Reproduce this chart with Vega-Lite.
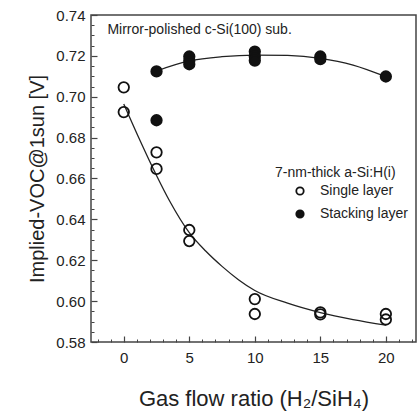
{
  "$schema": "https://vega.github.io/schema/vega-lite/v6.json",
  "width": 325,
  "height": 327,
  "autosize": "none",
  "padding": {"left": 91, "top": 15, "right": 3, "bottom": 72},
  "background": "white",
  "config": {
    "font": "Liberation Sans",
    "view": {"stroke": "#444", "strokeWidth": 1.5},
    "axis": {"domain": false, "grid": false, "tickColor": "#444", "labelColor": "#222", "titleColor": "#222", "labelFont": "Liberation Sans", "titleFont": "Liberation Sans", "titleFontWeight": "normal"}
  },
  "datasets": {
    "points": [
      {"series": "Single layer", "ratio": 0, "voc": 0.7046},
      {"series": "Single layer", "ratio": 0, "voc": 0.6925},
      {"series": "Single layer", "ratio": 2.5, "voc": 0.6728},
      {"series": "Single layer", "ratio": 2.5, "voc": 0.6647},
      {"series": "Single layer", "ratio": 5, "voc": 0.6348},
      {"series": "Single layer", "ratio": 5, "voc": 0.6294},
      {"series": "Single layer", "ratio": 10, "voc": 0.601},
      {"series": "Single layer", "ratio": 10, "voc": 0.5937},
      {"series": "Single layer", "ratio": 15, "voc": 0.5945},
      {"series": "Single layer", "ratio": 15, "voc": 0.5935},
      {"series": "Single layer", "ratio": 20, "voc": 0.5937},
      {"series": "Single layer", "ratio": 20, "voc": 0.591},
      {"series": "Stacking layer", "ratio": 2.5, "voc": 0.7124},
      {"series": "Stacking layer", "ratio": 2.5, "voc": 0.6885},
      {"series": "Stacking layer", "ratio": 5, "voc": 0.7197},
      {"series": "Stacking layer", "ratio": 5, "voc": 0.7176},
      {"series": "Stacking layer", "ratio": 5, "voc": 0.7159},
      {"series": "Stacking layer", "ratio": 10, "voc": 0.7221},
      {"series": "Stacking layer", "ratio": 10, "voc": 0.7197},
      {"series": "Stacking layer", "ratio": 10, "voc": 0.7177},
      {"series": "Stacking layer", "ratio": 15, "voc": 0.7197},
      {"series": "Stacking layer", "ratio": 15, "voc": 0.7184},
      {"series": "Stacking layer", "ratio": 20, "voc": 0.7099}
    ],
    "fit": [
      {"series": "Single layer", "ratio": 0, "voc": 0.6965},
      {"series": "Single layer", "ratio": 1.25, "voc": 0.6785},
      {"series": "Single layer", "ratio": 2.5, "voc": 0.6615},
      {"series": "Single layer", "ratio": 3.5, "voc": 0.649},
      {"series": "Single layer", "ratio": 5, "voc": 0.6335},
      {"series": "Single layer", "ratio": 6.25, "voc": 0.6245},
      {"series": "Single layer", "ratio": 7.5, "voc": 0.617},
      {"series": "Single layer", "ratio": 8.75, "voc": 0.6105},
      {"series": "Single layer", "ratio": 10, "voc": 0.6052},
      {"series": "Single layer", "ratio": 12.5, "voc": 0.599},
      {"series": "Single layer", "ratio": 15, "voc": 0.5944},
      {"series": "Single layer", "ratio": 17.5, "voc": 0.591},
      {"series": "Single layer", "ratio": 20, "voc": 0.5883},
      {"series": "Stacking layer", "ratio": 2.5, "voc": 0.7126},
      {"series": "Stacking layer", "ratio": 5, "voc": 0.7175},
      {"series": "Stacking layer", "ratio": 7.5, "voc": 0.7196},
      {"series": "Stacking layer", "ratio": 10, "voc": 0.7204},
      {"series": "Stacking layer", "ratio": 12.5, "voc": 0.7202},
      {"series": "Stacking layer", "ratio": 15, "voc": 0.7188},
      {"series": "Stacking layer", "ratio": 17.5, "voc": 0.7155},
      {"series": "Stacking layer", "ratio": 20, "voc": 0.7098}
    ]
  },
  "layer": [
    {
      "data": {"name": "fit"},
      "mark": {"type": "line", "interpolate": "monotone", "color": "#222", "strokeWidth": 1.3},
      "encoding": {
        "x": {"field": "ratio", "type": "quantitative", "scale": {"domain": [-2.5, 22.3], "nice": false, "zero": false},
          "axis": {"orient": "bottom", "values": [0, 5, 10, 15, 20], "tickSize": -6, "tickWidth": 1.2, "labelPadding": 14, "labelFontSize": 15, "title": "Gas flow ratio (H₂/SiH₄)", "titleFontSize": 22, "titlePadding": 23}},
        "y": {"field": "voc", "type": "quantitative", "scale": {"domain": [0.58, 0.74], "nice": false, "zero": false},
          "axis": {"orient": "left", "values": [0.58, 0.6, 0.62, 0.64, 0.66, 0.68, 0.7, 0.72, 0.74], "format": ".2f", "tickSize": -6, "tickWidth": 1.2, "labelPadding": 12, "labelFontSize": 15, "title": "Implied-VOC@1sun [V]", "titleFontSize": 20, "titlePadding": 8}},
        "detail": {"field": "series"}
      }
    },
    {
      "data": {"name": "points"},
      "mark": {"type": "point", "shape": "circle", "filled": true, "stroke": "#111", "strokeWidth": 1.8, "size": 110, "opacity": 1},
      "encoding": {
        "x": {"field": "ratio", "type": "quantitative",
          "axis": {"orient": "bottom", "values": [-2, -1, 1, 2, 3, 4, 6, 7, 8, 9, 11, 12, 13, 14, 16, 17, 18, 19, 21, 22], "tickSize": -3, "tickWidth": 1, "labels": false, "title": null}},
        "y": {"field": "voc", "type": "quantitative",
          "axis": {"orient": "left", "values": [0.585, 0.59, 0.595, 0.605, 0.61, 0.615, 0.625, 0.63, 0.635, 0.645, 0.65, 0.655, 0.665, 0.67, 0.675, 0.685, 0.69, 0.695, 0.705, 0.71, 0.715, 0.725, 0.73, 0.735], "tickSize": -3, "tickWidth": 1, "labels": false, "title": null}},
        "fill": {"field": "series", "type": "nominal",
          "scale": {"domain": ["Single layer", "Stacking layer"], "range": ["rgba(255,255,255,0)", "#111"]},
          "legend": {"orient": "none", "legendX": 184, "legendY": 151, "padding": 0, "title": "7-nm-thick a-Si:H(i)", "titleFontSize": 14, "titleFontWeight": "normal", "titleColor": "#222", "titlePadding": 4, "labelFontSize": 14, "labelColor": "#222", "symbolType": "circle", "symbolSize": 55, "symbolStrokeColor": "#111", "symbolStrokeWidth": 1.8, "symbolOffset": 18, "labelOffset": 13, "rowPadding": 7}
        }
      }
    },
    {
      "data": {"values": [{"note": "Mirror-polished c-Si(100) sub."}]},
      "mark": {"type": "text", "align": "left", "baseline": "middle", "fontSize": 14, "color": "#222"},
      "encoding": {
        "x": {"datum": -1.25, "type": "quantitative", "axis": null},
        "y": {"datum": 0.7329, "type": "quantitative", "axis": null},
        "text": {"field": "note", "type": "nominal"}
      }
    }
  ],
  "resolve": {"axis": {"x": "independent", "y": "independent"}}
}
